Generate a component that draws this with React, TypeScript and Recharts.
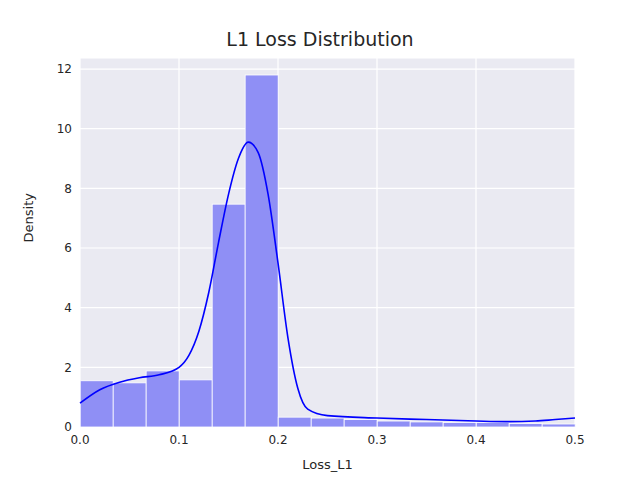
import { ComposedChart, Bar, Line, XAxis, YAxis, CartesianGrid } from "recharts";

// histogram bin centers (width 1/30) and densities
const binCenters = [0.0167, 0.05, 0.0833, 0.1167, 0.15, 0.1833, 0.2167, 0.25, 0.2833, 0.3167, 0.35, 0.3833, 0.4167, 0.45, 0.4833];
const binDensity = [1.55, 1.48, 1.88, 1.58, 7.47, 11.8, 0.33, 0.3, 0.25, 0.2, 0.17, 0.15, 0.15, 0.12, 0.1];

// KDE curve
const kdeX = [0, 0.02, 0.04, 0.06, 0.08, 0.1, 0.11, 0.12, 0.13, 0.14, 0.15, 0.16, 0.17, 0.18, 0.19, 0.2, 0.21, 0.22, 0.23, 0.25, 0.3, 0.35, 0.4, 0.43, 0.46, 0.48, 0.5];
const kdeY = [0.8, 1.25, 1.5, 1.65, 1.75, 2.0, 2.4, 3.2, 4.5, 6.2, 7.8, 9.0, 9.55, 9.2, 7.8, 5.5, 3.0, 1.3, 0.6, 0.38, 0.3, 0.25, 0.2, 0.18, 0.2, 0.25, 0.3];

const xTicks = [0, 0.1, 0.2, 0.3, 0.4, 0.5];
const yTicks = [0, 2, 4, 6, 8, 10, 12];

const bars = binCenters.map((x, i) => ({ x, density: binDensity[i] }));
const kde = kdeX.map((x, i) => ({ x, kde: kdeY[i] }));

const font = "DejaVu Sans, sans-serif";
const tick = { fill: "#262626", fontSize: 12, fontFamily: font };
const BIN_PX = 33;

// full-width histogram bar centred on the bin centre
const HistBar = (props: any) => {
  const { x, y, width, height } = props;
  if (!height || height <= 0) return null;
  const cx = x + width / 2;
  return <rect x={cx - BIN_PX / 2} y={y} width={BIN_PX} height={height} fill="#8f8ff5" stroke="#ffffff" strokeWidth={0.8} />;
};

export default function App() {
  return (
    <div style={{ position: "relative", width: 640, height: 480, margin: -8, background: "#fff" }}>
      <div style={{ position: "absolute", top: 28, width: 640, textAlign: "center", fontFamily: font, fontSize: 19, color: "#262626" }}>
        L1 Loss Distribution
      </div>
      <ComposedChart width={640} height={480} data={bars} margin={{ top: 58, right: 65, bottom: 23, left: 30 }}>
        <CartesianGrid fill="#eaeaf2" stroke="#fff" strokeWidth={1.2} vertical horizontal />
        <XAxis
          dataKey="x"
          type="number"
          domain={[0, 0.5]}
          ticks={xTicks}
          tickFormatter={(v) => v.toFixed(1)}
          tick={tick}
          height={30}
          axisLine={false}
          tickLine={false}
          label={{ value: "Loss_L1", position: "insideBottom", offset: -12, fill: "#262626", fontSize: 13, fontFamily: font }}
        />
        <YAxis
          type="number"
          domain={[0, 12.37]}
          ticks={yTicks}
          tick={tick}
          width={50}
          axisLine={false}
          tickLine={false}
          label={{ value: "Density", angle: -90, position: "insideLeft", offset: -2, fill: "#262626", fontSize: 13, fontFamily: font }}
        />
        <Bar dataKey="density" fill="#8f8ff5" shape={HistBar} isAnimationActive={false} />
        <Line data={kde} dataKey="kde" type="monotone" stroke="#0000ff" strokeWidth={1.6} dot={false} isAnimationActive={false} />
      </ComposedChart>
    </div>
  );
}
